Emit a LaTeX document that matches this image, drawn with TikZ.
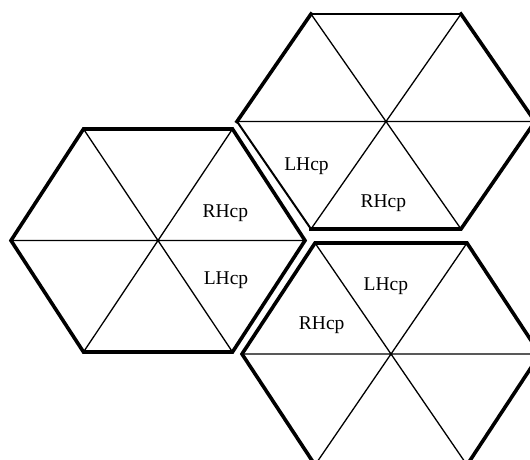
\documentclass[tikz,border=0pt]{standalone}
\usepackage{fontspec}
\setmainfont{Liberation Serif}
\begin{document}
\begin{tikzpicture}[x=1pt,y=-1pt,
  outer/.style={line width=3.6pt,line join=miter,line cap=rect},
  outermid/.style={line width=2.6pt,line cap=rect},
  outerthin/.style={line width=2pt,line cap=rect},
  inner/.style={line width=1.3pt},
  lbl/.style={anchor=base,inner sep=0pt,font=\fontsize{19.5}{20}\selectfont}]
\path[use as bounding box] (0,0) rectangle (530,459);
\clip (0,0) rectangle (530,459);
% hexagon vertices: #1 name, cx, cy, rx, a, ry
\newcommand{\hexpts}[6]{%
  \coordinate (#1c) at (#2,#3);
  \coordinate (#1l) at (#2-#4,#3);
  \coordinate (#1tl) at (#2-#5,#3-#6);
  \coordinate (#1tr) at (#2+#5,#3-#6);
  \coordinate (#1r) at (#2+#4,#3);
  \coordinate (#1br) at (#2+#5,#3+#6);
  \coordinate (#1bl) at (#2-#5,#3+#6);
  \draw[inner] (#1l) -- (#1r) (#1tl) -- (#1br) (#1tr) -- (#1bl);
}
\hexpts{A}{158}{240.5}{147}{74.5}{111.5}
\hexpts{B}{386}{121.5}{149}{75}{107.5}
\hexpts{C}{391}{354}{149}{76}{111}
% outlines
\draw[outer] (Al) -- (Atl) -- (Atr) -- (Ar) -- (Abr) -- (Abl) -- cycle;
\draw[outer] (Cl) -- (Ctl) -- (Ctr) -- (Cr) -- (Cbr) -- (Cbl) -- cycle;
\draw[outer] (Bbl) -- (Bbr) -- (Br) -- (Btr);
\draw[outermid] (Btr) -- (Btl);
\draw[outer] (Btl) -- (Bl);
\draw[outerthin] (Bl) -- (Bbl);
% labels
\node[lbl] (a1) at (225.3,217) {RHcp};
\node[lbl] (a2) at (226,284) {LHcp};
\node[lbl] (b1) at (306.5,170) {LHcp};
\node[lbl] (b2) at (383.3,207) {RHcp};
\node[lbl] (c1) at (385.8,290) {LHcp};
\node[lbl] (c2) at (321.7,329) {RHcp};
\end{tikzpicture}
\end{document}
